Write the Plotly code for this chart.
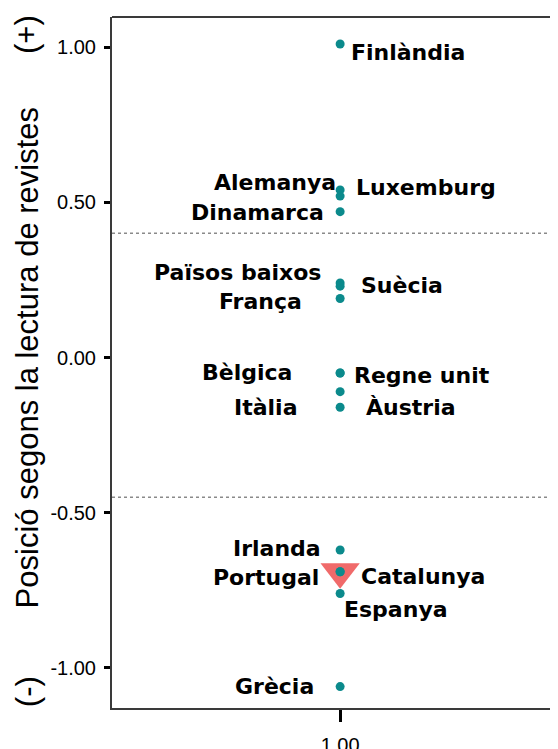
import plotly.graph_objects as go

# ---- data ----
countries = ["Finlàndia", "Alemanya", "Luxemburg", "Dinamarca", "Països baixos",
             "Suècia", "França", "Bèlgica", "Regne unit", "Itàlia", "Àustria",
             "Irlanda", "Portugal", "Catalunya", "Espanya", "Grècia"]
position = [1.01, 0.54, 0.52, 0.47, 0.24,
            0.23, 0.19, -0.05, -0.05, -0.11, -0.16,
            -0.62, -0.69, -0.69, -0.76, -1.06]
x_group = [1.0] * len(countries)
highlight = ["Catalunya"]
cut_lines = [0.40, -0.45]
y_ticks = [-1.0, -0.5, 0.0, 0.5, 1.0]
y_tick_labels = ["-1.00", "-0.50", "0.00", "0.50", "1.00"]
x_ticks = [1.0]
x_tick_labels = ["1.00"]

# ---- label placement (style) : (xshift, yshift, side) ----
label_style = {
    "Finlàndia": (10, -8, "left"),
    "Alemanya": (-3, 7, "right"),
    "Luxemburg": (15, 9, "left"),
    "Dinamarca": (-15, -1, "right"),
    "Països baixos": (-18, 11, "right"),
    "Suècia": (20, 1, "left"),
    "França": (-37, -3, "right"),
    "Bèlgica": (-47, 1, "right"),
    "Regne unit": (13, -2, "left"),
    "Itàlia": (-42, -16, "right"),
    "Àustria": (25, 0, "left"),
    "Irlanda": (-18, 2, "right"),
    "Portugal": (-20, -6, "right"),
    "Catalunya": (20, -5, "left"),
    "Espanya": (3, -16, "left"),
    "Grècia": (-25, 0, "right"),
}

TEAL = "#0b8a8c"
SALMON = "#f06a6a"

fig = go.Figure()

hx = [x for c, x in zip(countries, x_group) if c in highlight]
hy = [y for c, y in zip(countries, position) if c in highlight]
fig.add_trace(go.Scatter(
    x=hx, y=hy, mode="markers",
    marker=dict(symbol="triangle-down", size=34, color=SALMON, line=dict(width=0)),
    hoverinfo="skip", showlegend=False))

fig.add_trace(go.Scatter(
    x=x_group, y=position, mode="markers",
    marker=dict(symbol="circle", size=9, color=TEAL, line=dict(width=0)),
    text=countries, showlegend=False))

LABEL_FONT = dict(family="DejaVu Sans", size=22, color="black", weight="bold")
for c, x, y in zip(countries, x_group, position):
    dx, dy, side = label_style[c]
    fig.add_annotation(x=x, y=y, xref="x", yref="y", text=c, showarrow=False,
                       xanchor=side, yanchor="middle", xshift=dx, yshift=dy,
                       font=LABEL_FONT, borderpad=0)

for yv in cut_lines:
    fig.add_shape(type="line", xref="paper", yref="y", x0=0, x1=1, y0=yv, y1=yv,
                  line=dict(color="#8a8a8a", width=1.5, dash="dot"))

# top border
fig.add_shape(type="line", xref="paper", yref="paper", x0=0, x1=1, y0=1, y1=1,
              line=dict(color="#3a3a3a", width=2))

TITLE_FONT = dict(family="Liberation Sans, Arial", size=31, color="black")
TX = -0.194
fig.add_annotation(xref="paper", yref="paper", x=TX, y=0.506,
                   text="Posició segons la lectura de revistes", textangle=-90,
                   showarrow=False, xanchor="center", yanchor="middle", font=TITLE_FONT)
fig.add_annotation(xref="paper", yref="paper", x=TX, y=0.974,
                   text="(+)", textangle=-90,
                   showarrow=False, xanchor="center", yanchor="middle", font=TITLE_FONT)
fig.add_annotation(xref="paper", yref="paper", x=TX, y=0.023,
                   text="(-)", textangle=-90,
                   showarrow=False, xanchor="center", yanchor="middle", font=TITLE_FONT)

TICK_FONT = dict(family="Liberation Sans, Arial", size=20, color="black")
fig.update_layout(
    width=542, height=741,
    margin=dict(l=104, r=0, t=9, b=41, pad=0, autoexpand=False),
    paper_bgcolor="white", plot_bgcolor="white",
    showlegend=False,
    xaxis=dict(range=[0.5, 1.46], tickvals=x_ticks, ticktext=x_tick_labels,
               showgrid=False, zeroline=False, showline=True, automargin=False,
               linecolor="#3a3a3a", linewidth=2,
               ticks="outside", ticklen=12, tickwidth=3, tickcolor="black",
               ticklabelstandoff=6, tickfont=TICK_FONT),
    yaxis=dict(range=[-1.129, 1.097], tickvals=y_ticks, ticktext=y_tick_labels,
               showgrid=False, zeroline=False, showline=True, automargin=False,
               linecolor="#3a3a3a", linewidth=2,
               ticks="outside", ticklen=6, tickwidth=3, tickcolor="black",
               ticklabelstandoff=4, tickfont=TICK_FONT),
)

fig.write_html("out.html")
